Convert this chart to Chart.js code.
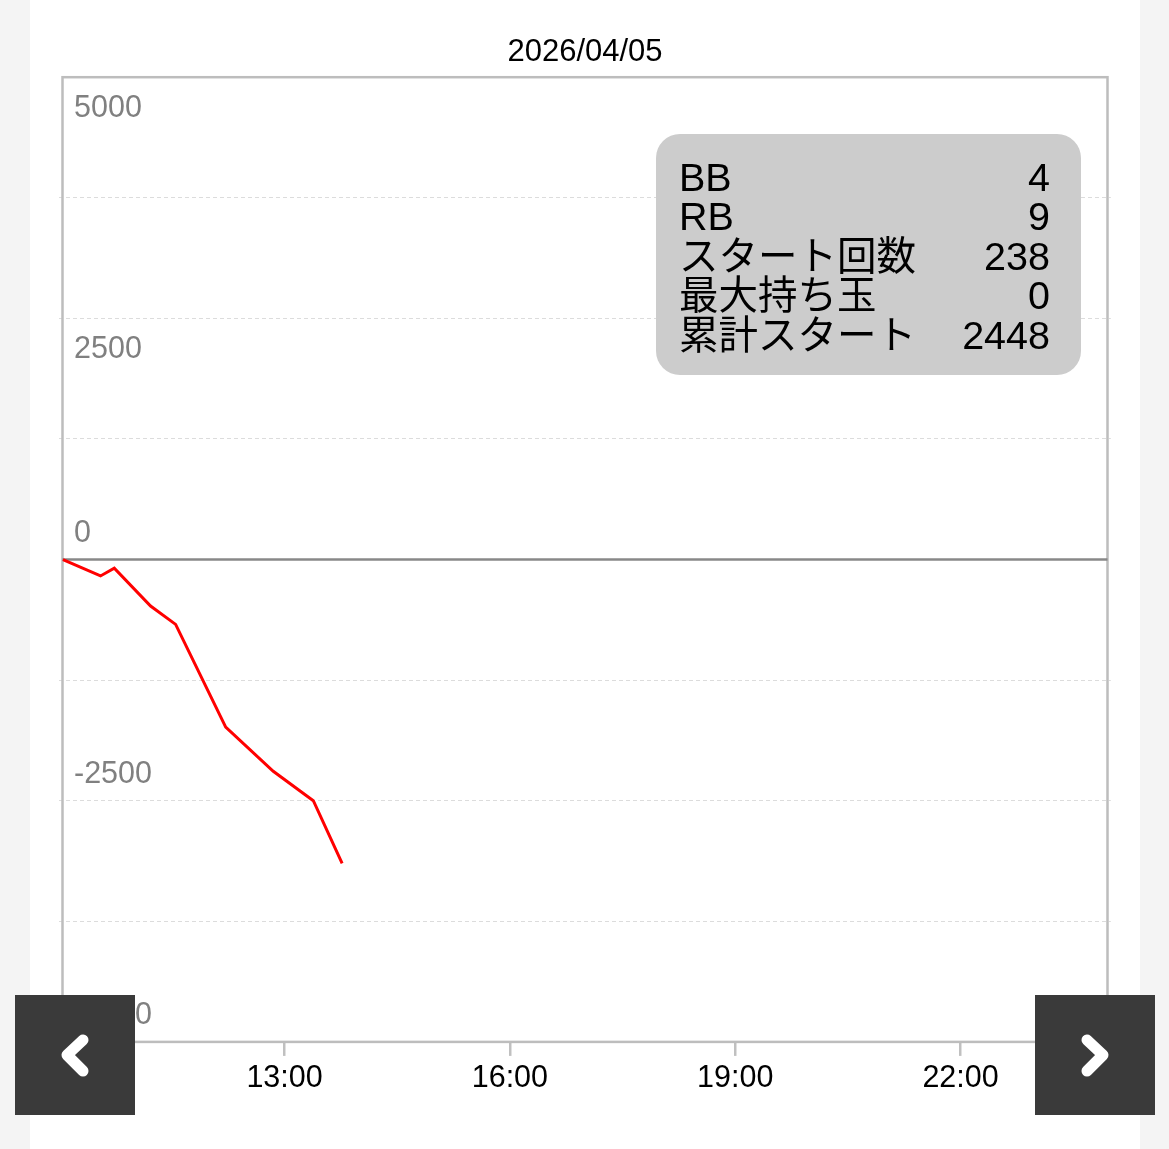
<!DOCTYPE html>
<html>
<head>
<meta charset="utf-8">
<script src="https://cdn.jsdelivr.net/npm/chart.js@4/dist/chart.umd.min.js"></script>
<style>
  html, body { margin: 0; padding: 0; background: #f4f4f4; }
  body { width: 1169px; height: 1149px; position: relative; overflow: hidden; }
  .panel { position: absolute; left: 30px; top: 0; width: 1110px; height: 1149px; background: #fff; }
  .nav { position: absolute; top: 995px; width: 120px; height: 120px; background: #3a3a3a; }
  .nav svg { display: block; }
  #prev { left: 15px; }
  #next { left: 1035px; }
</style>
</head>
<body>
<div class="panel"><canvas id="slumpChart"></canvas></div>
<div class="nav" id="prev"><svg width="120" height="120"><polyline points="68,45 52,60 68,76" fill="none" stroke="#fff" stroke-width="11" stroke-linecap="round" stroke-linejoin="round"/></svg></div>
<div class="nav" id="next"><svg width="120" height="120"><polyline points="52,45 68,60 52,76" fill="none" stroke="#fff" stroke-width="11" stroke-linecap="round" stroke-linejoin="round"/></svg></div>

<script>
const chartDate = '2026/04/05';
const times = ['10:03', '10:33', '10:44', '11:13', '11:33', '12:13', '12:51', '13:23', '13:46'];
const balance = [0, -170, -90, -482, -672, -1738, -2195, -2500, -3150];
const xTicks = ['10:00', '13:00', '16:00', '19:00', '22:00'];
const yLabels = [5000, 2500, 0, -2500, -5000];
const statNames = ['BB', 'RB', 'スタート回数', '最大持ち玉', '累計スタート'];
const statValues = [4, 9, 238, 0, 2448];

const FONT = '"Liberation Sans", Arial, "Noto Sans CJK JP", sans-serif';

function toHours(t) {
    const [h, m] = t.split(':').map(Number);
    return h + m / 60;
}

const points = times.map((t, i) => ({ x: toHours(t), y: balance[i] }));

// frame, zero line, y labels and the stats box
const overlay = {
    id: 'overlay',
    beforeDatasetsDraw(chart) {
        const { ctx, chartArea, scales } = chart;
        const y = scales.y;
        ctx.save();
        ctx.strokeStyle = '#bdbdbd';
        ctx.lineWidth = 2.5;
        ctx.strokeRect(chartArea.left + 3.3, chartArea.top, chartArea.width - 6.6, chartArea.height);

        const zy = y.getPixelForValue(0);
        ctx.strokeStyle = '#888';
        ctx.lineWidth = 2.5;
        ctx.beginPath();
        ctx.moveTo(chartArea.left + 3.3, zy);
        ctx.lineTo(chartArea.right - 3.3, zy);
        ctx.stroke();

        ctx.fillStyle = '#808080';
        ctx.font = '30.5px ' + FONT;
        ctx.textAlign = 'left';
        ctx.textBaseline = 'middle';
        yLabels.forEach(v => {
            const py = y.getPixelForValue(v);
            ctx.fillText(String(v), 44, v > 0 ? py + 31.5 : py - 26);
        });
        ctx.restore();
    },
    afterDraw(chart) {
        const { ctx } = chart;
        ctx.save();
        ctx.fillStyle = '#cccccc';
        ctx.beginPath();
        ctx.roundRect(626, 134, 425, 241, 24);
        ctx.fill();

        ctx.fillStyle = '#000';
        ctx.font = '39.5px ' + FONT;
        ctx.textBaseline = 'middle';
        statNames.forEach((name, i) => {
            const ty = 180 + i * 39.5;
            ctx.textAlign = 'left';
            ctx.fillText(name, 649, ty);
            ctx.textAlign = 'right';
            ctx.fillText(String(statValues[i]), 1020, ty);
        });
        ctx.restore();
    }
};

new Chart(document.getElementById('slumpChart'), {
    type: 'line',
    data: {
        datasets: [{
            data: points,
            borderColor: '#ff0000',
            borderWidth: 3,
            pointRadius: 0,
            tension: 0,
            fill: false
        }]
    },
    options: {
        responsive: true,
        maintainAspectRatio: false,
        animation: false,
        layout: { padding: { left: 29.2, right: 29.2, top: 0, bottom: 48.5 } },
        plugins: {
            legend: { display: false },
            tooltip: { enabled: false },
            title: {
                display: true,
                text: chartDate,
                color: '#000',
                font: { size: 31, family: FONT, weight: 'normal', lineHeight: 1.2 },
                padding: { top: 34, bottom: 6 }
            }
        },
        scales: {
            x: {
                type: 'linear',
                min: 10,
                max: 24,
                afterBuildTicks: scale => {
                    scale.ticks = xTicks.map(toHours).map(v => ({ value: v }));
                },
                afterFit: scale => {
                    scale.paddingLeft = 0;
                    scale.paddingRight = 0;
                },
                border: { display: false },
                grid: { drawOnChartArea: false, drawTicks: true, tickLength: 14, color: '#c0c0c0', lineWidth: 2.5 },
                ticks: {
                    padding: 4,
                    color: '#000',
                    autoSkip: false,
                    font: { size: 30.5, family: FONT },
                    maxRotation: 0,
                    callback: (v, i) => xTicks[i]
                }
            },
            y: {
                min: -5000,
                max: 5000,
                afterFit: scale => {
                    scale.width = 0;
                    scale.paddingTop = 0;
                    scale.paddingBottom = 0;
                },
                border: { display: false, dash: [4, 3] },
                grid: {
                    drawTicks: false,
                    color: ctx => (Math.abs(ctx.tick.value) === 5000 || ctx.tick.value === 0) ? 'rgba(0,0,0,0)' : '#dcdcdc',
                    lineWidth: 1
                },
                ticks: { stepSize: 1250, display: false }
            }
        }
    },
    plugins: [overlay]
});
</script>
</body>
</html>
